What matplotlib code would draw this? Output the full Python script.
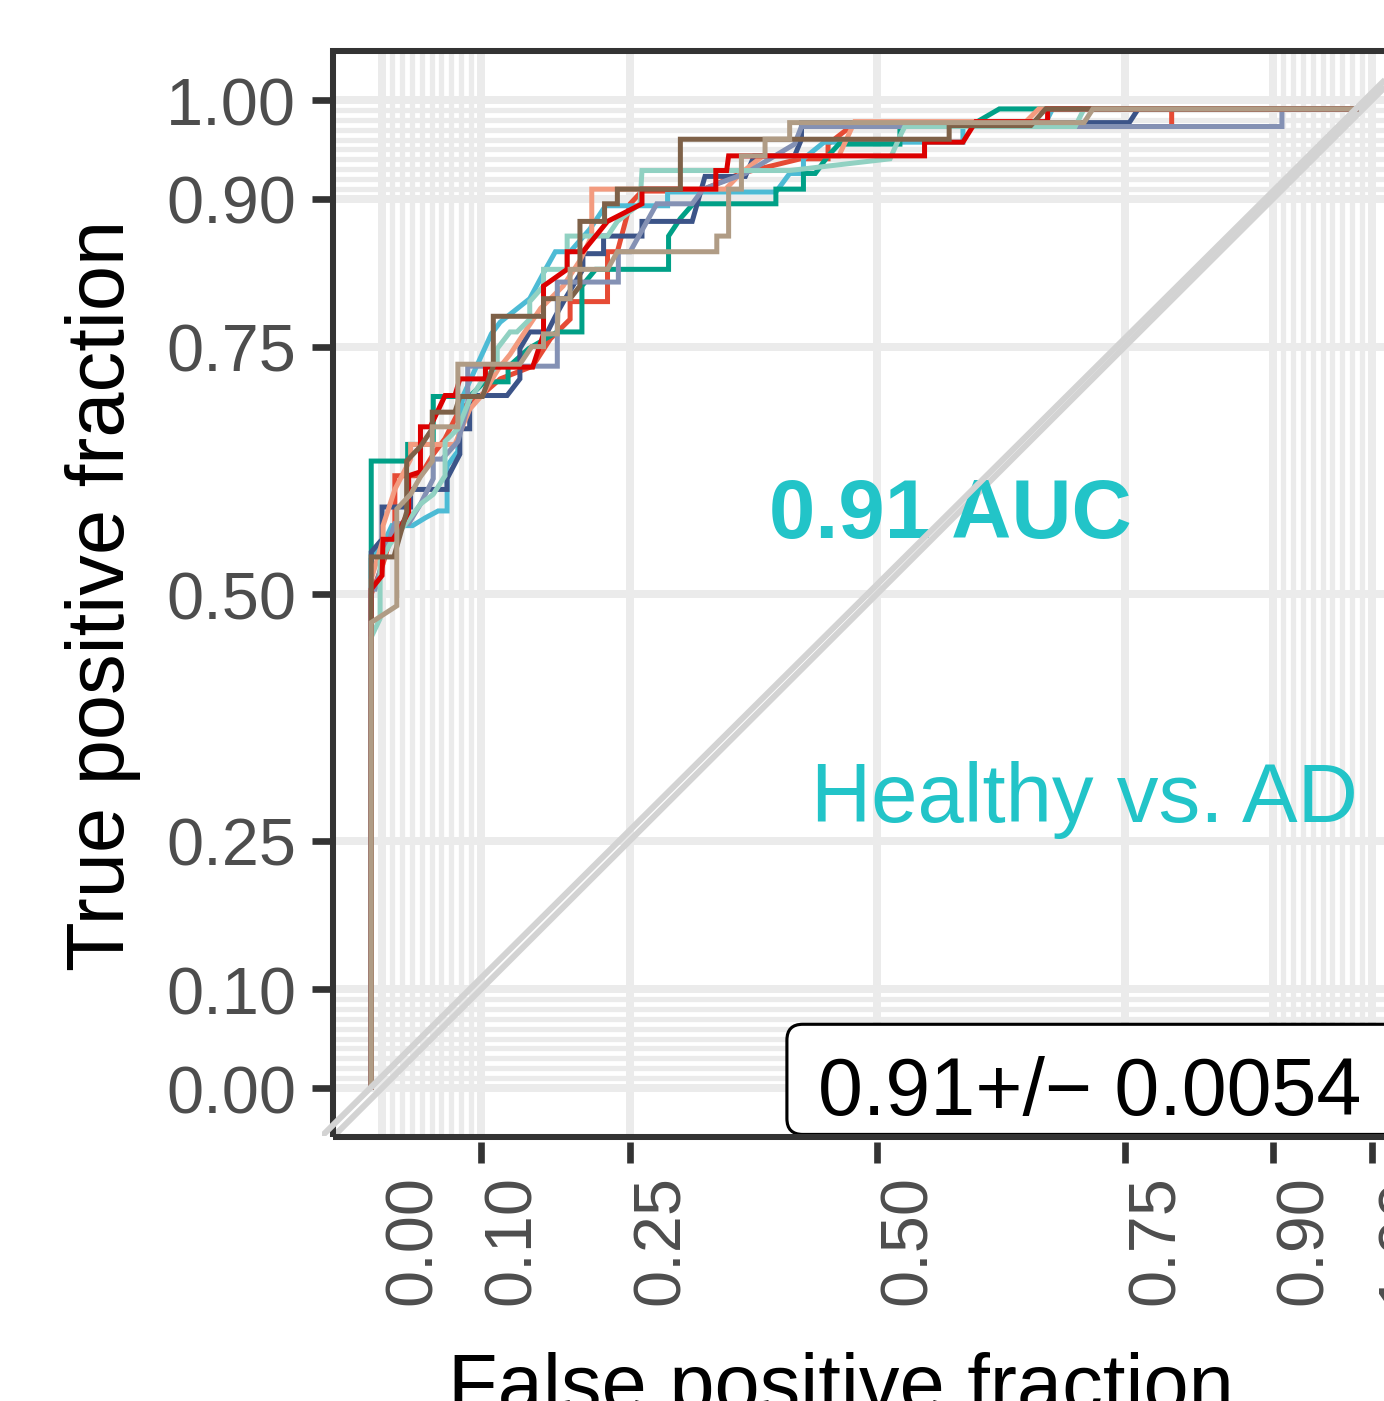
import matplotlib
matplotlib.use("Agg")
import matplotlib.pyplot as plt
import numpy as np
from matplotlib.patches import FancyBboxPatch, Rectangle
from matplotlib.transforms import ScaledTranslation

plt.rcParams['font.family'] = ['Liberation Sans', 'DejaVu Sans']

# ---- ROC curves (false positive fraction, true positive fraction) per resample ----
fold01_fpf = [0, 0, 0.012, 0.024, 0.024, 0.050, 0.063, 0.075, 0.090, 0.114, 0.131, 0.164, 0.182, 0.202, 0.202,
              0.240, 0.240, 0.250, 0.263, 0.275, 0.334, 0.375, 0.436, 0.464, 0.464, 0.487, 0.813, 0.813, 1.0]
fold01_tpf = [0, 0.504, 0.535, 0.576, 0.625, 0.625, 0.647, 0.663, 0.693, 0.709, 0.724, 0.737, 0.765, 0.785, 0.803,
              0.803, 0.854, 0.854, 0.903, 0.916, 0.916, 0.934, 0.949, 0.949, 0.964, 0.982, 0.982, 1.0, 1.0]

fold02_fpf = [0, 0, 0.012, 0.021, 0.042, 0.055, 0.068, 0.077, 0.077, 0.088, 0.088, 0.093, 0.122, 0.131, 0.161,
              0.177, 0.187, 0.202, 0.222, 0.238, 0.301, 0.301, 0.411, 0.425, 0.439, 0.439, 0.460, 0.601, 0.601,
              0.683, 0.692, 1.0]
fold02_tpf = [0, 0.540, 0.555, 0.574, 0.574, 0.582, 0.589, 0.589, 0.635, 0.650, 0.657, 0.706, 0.770, 0.782, 0.806,
              0.836, 0.854, 0.854, 0.877, 0.901, 0.901, 0.915, 0.915, 0.934, 0.934, 0.949, 0.966, 0.966, 0.982,
              0.982, 1.0, 1.0]

fold03_fpf = [0, 0, 0.037, 0.037, 0.063, 0.063, 0.100, 0.115, 0.139, 0.139, 0.160, 0.189, 0.214, 0.214, 0.228,
              0.302, 0.302, 0.314, 0.327, 0.411, 0.411, 0.439, 0.439, 0.451, 0.464, 0.475, 0.537, 0.537, 0.614,
              0.638, 1.0]
fold03_tpf = [0, 0.640, 0.640, 0.657, 0.657, 0.706, 0.706, 0.721, 0.721, 0.736, 0.755, 0.772, 0.772, 0.819, 0.836,
              0.836, 0.870, 0.888, 0.903, 0.903, 0.918, 0.918, 0.934, 0.934, 0.952, 0.964, 0.964, 0.986, 0.986,
              1.0, 1.0]

fold04_fpf = [0, 0, 0.011, 0.011, 0.040, 0.040, 0.077, 0.077, 0.090, 0.090, 0.100, 0.100, 0.138, 0.151, 0.151,
              0.161, 0.179, 0.187, 0.197, 0.215, 0.215, 0.236, 0.236, 0.275, 0.275, 0.326, 0.339, 0.380, 0.389,
              0.430, 0.437, 0.437, 0.770, 0.779, 1.0]
fold04_tpf = [0, 0.547, 0.560, 0.593, 0.593, 0.611, 0.611, 0.622, 0.647, 0.673, 0.673, 0.707, 0.707, 0.724, 0.755,
              0.772, 0.772, 0.788, 0.806, 0.836, 0.852, 0.852, 0.870, 0.870, 0.885, 0.885, 0.931, 0.931, 0.952,
              0.952, 0.969, 0.986, 0.986, 1.0, 1.0]

fold05_fpf = [0, 0, 0.012, 0.012, 0.024, 0.040, 0.040, 0.085, 0.100, 0.114, 0.129, 0.141, 0.158, 0.172, 0.195,
              0.212, 0.224, 0.224, 0.360, 0.375, 0.398, 0.475, 0.491, 0.665, 0.678, 1.0]
fold05_tpf = [0, 0.519, 0.560, 0.574, 0.611, 0.642, 0.657, 0.657, 0.693, 0.709, 0.734, 0.749, 0.775, 0.796, 0.819,
              0.845, 0.870, 0.918, 0.918, 0.934, 0.952, 0.952, 0.987, 0.987, 1.0, 1.0]

fold06_fpf = [0, 0, 0.004, 0.012, 0.024, 0.038, 0.050, 0.063, 0.063, 0.072, 0.088, 0.098, 0.098, 0.189, 0.189,
              0.251, 0.251, 0.263, 0.290, 0.326, 0.337, 0.380, 0.405, 0.430, 0.437, 0.925, 0.925, 1.0]
fold06_tpf = [0, 0.509, 0.509, 0.540, 0.576, 0.576, 0.596, 0.622, 0.642, 0.642, 0.660, 0.696, 0.737, 0.737, 0.823,
              0.823, 0.854, 0.854, 0.903, 0.903, 0.918, 0.934, 0.949, 0.964, 0.982, 0.982, 1.0, 1.0]

fold07_fpf = [0, 0, 0.009, 0.009, 0.019, 0.035, 0.050, 0.063, 0.075, 0.075, 0.088, 0.100, 0.114, 0.128, 0.128,
              0.141, 0.148, 0.161, 0.161, 0.175, 0.175, 0.199, 0.199, 0.240, 0.250, 0.273, 0.275, 0.425, 0.527,
              0.537, 0.542, 0.715, 0.724, 1.0]
fold07_tpf = [0, 0.460, 0.479, 0.537, 0.555, 0.576, 0.596, 0.606, 0.625, 0.660, 0.673, 0.703, 0.724, 0.737, 0.755,
              0.772, 0.772, 0.785, 0.803, 0.819, 0.836, 0.836, 0.870, 0.870, 0.885, 0.903, 0.937, 0.937, 0.949,
              0.972, 0.982, 0.982, 1.0, 1.0]

fold08_fpf = [0, 0, 0.011, 0.012, 0.022, 0.029, 0.038, 0.038, 0.050, 0.050, 0.060, 0.075, 0.085, 0.090, 0.116,
              0.116, 0.164, 0.175, 0.175, 0.199, 0.199, 0.215, 0.240, 0.275, 0.275, 0.350, 0.350, 0.361, 0.363,
              0.562, 0.562, 0.601, 0.614, 0.687, 0.687, 1.0]
fold08_tpf = [0, 0.509, 0.523, 0.560, 0.560, 0.571, 0.588, 0.625, 0.629, 0.675, 0.675, 0.707, 0.707, 0.724, 0.724,
              0.736, 0.736, 0.770, 0.819, 0.836, 0.854, 0.854, 0.885, 0.903, 0.918, 0.918, 0.937, 0.937, 0.952,
              0.952, 0.966, 0.966, 0.987, 0.987, 1.0, 1.0]

fold09_fpf = [0, 0, 0, 0.023, 0.036, 0.036, 0.050, 0.062, 0.062, 0.085, 0.090, 0.113, 0.124, 0.124, 0.175,
              0.175, 0.202, 0.212, 0.212, 0.237, 0.237, 0.250, 0.250, 0.314, 0.314, 0.587, 0.587, 0.670, 0.685,
              1.0]
fold09_tpf = [0, 0.479, 0.542, 0.542, 0.588, 0.640, 0.655, 0.673, 0.690, 0.690, 0.706, 0.706, 0.737, 0.788, 0.788,
              0.806, 0.806, 0.819, 0.885, 0.885, 0.903, 0.903, 0.918, 0.918, 0.969, 0.969, 0.983, 0.983, 1.0,
              1.0]

fold10_fpf = [0, 0, 0.026, 0.026, 0.040, 0.050, 0.062, 0.062, 0.088, 0.088, 0.151, 0.163, 0.175, 0.175, 0.189,
              0.190, 0.202, 0.202, 0.240, 0.250, 0.351, 0.351, 0.363, 0.363, 0.376, 0.376, 0.400, 0.400, 0.425,
              0.425, 0.724, 0.733, 1.0]
fold10_tpf = [0, 0.475, 0.492, 0.591, 0.606, 0.624, 0.640, 0.675, 0.675, 0.739, 0.739, 0.757, 0.757, 0.770, 0.770,
              0.806, 0.806, 0.836, 0.836, 0.854, 0.854, 0.870, 0.870, 0.918, 0.918, 0.952, 0.952, 0.969, 0.969,
              0.986, 0.986, 1.0, 1.0]

fold_colors = ["#E64B35", "#4DBBD5", "#00A087", "#3C5488", "#F39B7F",
               "#8491B4", "#91D1C2", "#DC0000", "#7E6148", "#B09C85"]

# ---- axis breaks and annotation text ----
major_breaks = [0.0, 0.10, 0.25, 0.50, 0.75, 0.90, 1.0]
break_labels = ["0.00", "0.10", "0.25", "0.50", "0.75", "0.90", "1.00"]
auc_mean = 0.91
auc_sd = 0.0054
comparison = "Healthy vs. AD"

W, H, DPI = 1384, 1402, 300
fig = plt.figure(figsize=(W / DPI, H / DPI), dpi=DPI)
fig.patch.set_facecolor("white")


def px_rect(left, top, right, bottom):
    return [left / W, 1 - bottom / H, (right - left) / W, (bottom - top) / H]


lim = (-0.05, 1.05)
grid_col = "#EBEBEB"
dark = "#333333"
diag_col = "#D3D3D3"

# ---- main panel: grid, axes, annotations ----
ax = fig.add_axes(px_rect(332.5, 51.6, 1421.5, 1138.4))
ax.set_xlim(lim)
ax.set_ylim(lim)
ax.set_facecolor("white")

minor_breaks = sorted(set(np.round(np.r_[np.arange(0, 0.1001, 0.01), np.arange(0.9, 1.0001, 0.01)], 2)))
ax.set_xticks(minor_breaks, minor=True)
ax.set_yticks(minor_breaks, minor=True)
ax.set_xticks(major_breaks, break_labels)
ax.set_yticks(major_breaks, break_labels)
ax.grid(which="minor", color=grid_col, lw=1.25, zorder=0)
ax.grid(which="major", color=grid_col, lw=1.9, zorder=0)
ax.set_axisbelow(True)

ax.tick_params(which="minor", length=0)
ax.tick_params(which="major", direction="out", length=5.1, width=1.6, color=dark,
               labelsize=16, labelcolor="#4D4D4D", pad=3.6)
ax.tick_params(axis="x", which="major", pad=2.6)

for s in ax.spines.values():
    s.set_visible(False)
ax.spines["bottom"].set_position(("outward", 1.2))

# no tick mark at the origin on the x axis
ax.xaxis.get_major_ticks()[0].tick1line.set_visible(False)

shift = ScaledTranslation(49 / DPI, 0, fig.dpi_scale_trans)
for lab in ax.get_xticklabels():
    lab.set_rotation(90)
    lab.set_rotation_mode("anchor")
    lab.set_ha("right")
    lab.set_va("baseline")
    lab.set_transform(lab.get_transform() + shift)

ax.add_patch(Rectangle((0, 0), 1, 1, transform=ax.transAxes, fill=False,
                       ec=dark, lw=1.45, clip_on=False, zorder=6))

ax.plot(lim, lim, color=diag_col, lw=1.45, zorder=2, solid_capstyle="butt")

auc_col = "#22C4C8"
ax.text(0.574, 0.558, f"{auc_mean:.2f} AUC", color=auc_col, fontsize=20,
        fontweight="bold", ha="center", va="baseline", zorder=3)
ax.text(0.710, 0.270, comparison, color=auc_col, fontsize=20,
        ha="center", va="baseline", zorder=3)

ax.add_patch(FancyBboxPatch((0.409, -0.047), 0.72, 0.1115,
                            boxstyle="round,pad=0,rounding_size=0.016",
                            fc="white", ec="black", lw=0.75, zorder=4, clip_on=False))
ax.text(0.4404, -0.0263, f"{auc_mean:.2f}+/\u2212 {auc_sd}", fontsize=19.4,
        color="black", ha="left", va="baseline", zorder=5)

# ---- overlaid panel holding the resampled ROC curves ----
ax2 = fig.add_axes(px_rect(322, 61, 1405, 1137))
ax2.set_xlim(lim)
ax2.set_ylim(lim)
ax2.set_facecolor("none")
ax2.axis("off")

curves = [(fold01_fpf, fold01_tpf), (fold02_fpf, fold02_tpf), (fold03_fpf, fold03_tpf),
          (fold04_fpf, fold04_tpf), (fold05_fpf, fold05_tpf), (fold06_fpf, fold06_tpf),
          (fold07_fpf, fold07_tpf), (fold08_fpf, fold08_tpf), (fold09_fpf, fold09_tpf),
          (fold10_fpf, fold10_tpf)]
for (fx, ty), col in zip(curves, fold_colors):
    ax2.plot(fx, ty, color=col, lw=1.2, solid_joinstyle="miter", zorder=2)
ax2.plot(lim, lim, color=diag_col, lw=1.45, zorder=3, solid_capstyle="butt")

# ---- axis titles ----
fig.text(124 / W, 1 - 595 / H, "True positive fraction", rotation=90, rotation_mode="anchor",
         ha="center", va="baseline", fontsize=19.5, color="black")
fig.text(841 / W, 1 - 1411 / H, "False positive fraction", ha="center", va="baseline",
         fontsize=19.5, color="black")

fig.savefig("out.png", dpi=DPI)
